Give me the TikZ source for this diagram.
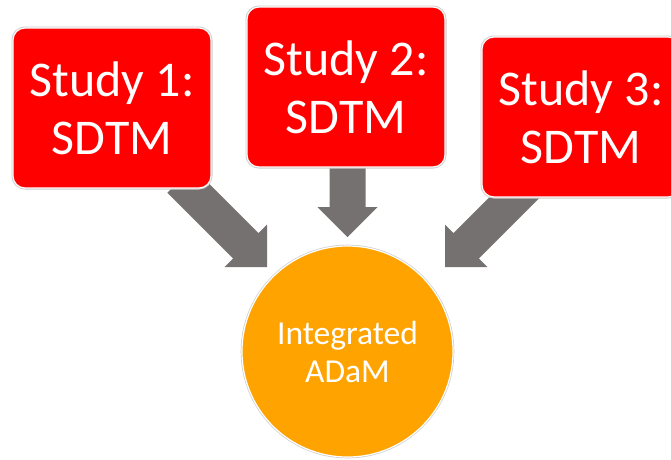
\documentclass[tikz,border=0pt]{standalone}
\usepackage{fontspec}
\setmainfont{Carlito}
\definecolor{boxred}{RGB}{255,0,0}
\definecolor{dataorange}{RGB}{255,163,0}
\definecolor{arrowgray}{RGB}{118,113,113}
\definecolor{rimgray}{RGB}{205,205,205}
\tikzset{
  studybox/.style={rectangle, rounded corners=12pt, fill=boxred, draw=white, line width=1.2pt,
    preaction={draw=rimgray, line width=3pt},
    minimum width=198pt, minimum height=160pt, text=white, align=center,
    font=\fontsize{50}{58}\selectfont, inner sep=0pt},
  adam/.style={circle, fill=dataorange, draw=white, line width=1.2pt,
    preaction={draw=rimgray, line width=2.6pt},
    minimum size=211pt, text=white, align=center,
    font=\fontsize{33.5}{38}\selectfont, inner sep=0pt},
  fat/.pic={\fill[arrowgray] (0,0) -- (-30,30) -- (-30,18) -- (-30-#1,18) -- (-30-#1,-18)
     -- (-30,-18) -- (-30,-30) -- cycle;}
}
\begin{document}
\begin{tikzpicture}[x=1pt,y=-1pt]
\useasboundingbox (0,0) rectangle (671,459);
\clip (0,0) rectangle (671,459);
\fill[white] (0,0) rectangle (671,459);
% connector tips
\coordinate (t1) at (267,267);
\coordinate (t2) at (347.5,237);
\coordinate (t3) at (445,267);
\pic[rotate=-45] at (t1) {fat=93};
\pic[rotate=-90] at (t2) {fat=47};
\pic[rotate=-135] at (t3) {fat=86};
% boxes
\node[studybox] (s1) at (112,108) {Study 1:\\SDTM};
\node[studybox] (s2) at (346,87) {Study 2:\\SDTM};
\node[studybox] (s3) at (581,117) {Study 3:\\SDTM};
% circle
\node[adam] (adam) at (347.5,351.5) {Integrated\\ADaM};
\end{tikzpicture}
\end{document}
